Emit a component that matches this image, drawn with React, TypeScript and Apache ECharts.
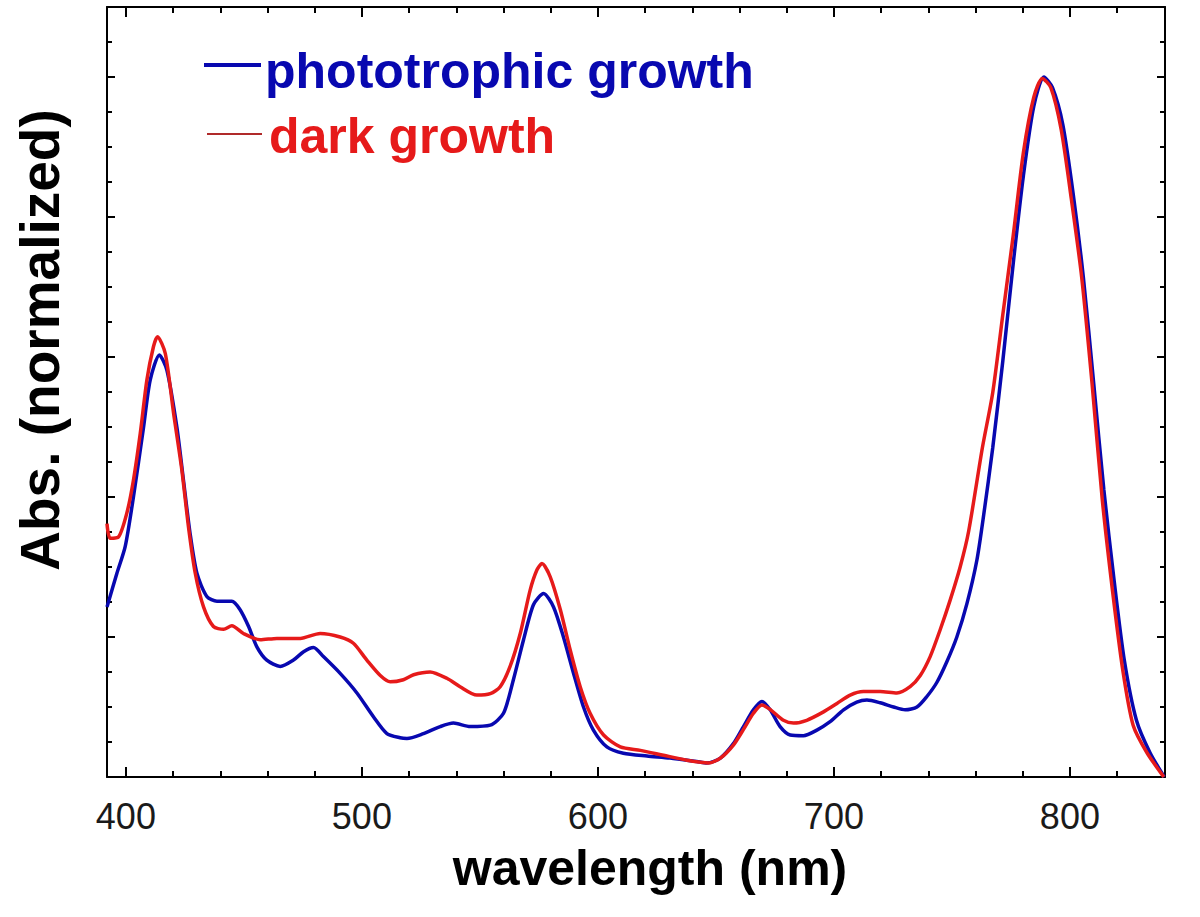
import React, { useEffect, useRef } from "react";
import * as echarts from "echarts";

// ---- Data ----
const photoWl = [392, 396.2, 399.7, 403.2, 407.5, 410.3, 414.2, 417.4, 421.6, 424.4, 427.2, 430.1, 434.3, 438.6, 444.9, 448.4, 452, 455.5, 459.7, 465.4, 471, 475.3, 479.5, 483.7, 490.8, 497.9, 504.9, 510.6, 516.2, 519.1, 526.1, 533.2, 538.8, 545.9, 554.4, 560, 564.2, 568.5, 572.7, 577, 581.2, 585.4, 589.7, 593.9, 598.1, 603.8, 610.8, 620.8, 630.6, 641.9, 646.2, 651.9, 657.5, 661.7, 665.9, 669.5, 673, 677.2, 681.5, 687.1, 692.8, 698.4, 704.1, 709.7, 714, 719.6, 725.3, 730.2, 735.2, 739.4, 743.6, 747.9, 752.1, 756.4, 760.6, 763.5, 767.3, 771.6, 776, 780.3, 784.7, 789, 792.6, 797, 801.4, 805.7, 810.1, 814.4, 818.8, 823.1, 828.2, 833.9, 840];
const photoAbs = [0.243, 0.291, 0.329, 0.4, 0.5, 0.567, 0.603, 0.581, 0.5, 0.424, 0.348, 0.291, 0.258, 0.251, 0.251, 0.239, 0.215, 0.186, 0.167, 0.158, 0.167, 0.179, 0.185, 0.172, 0.148, 0.12, 0.086, 0.062, 0.056, 0.055, 0.062, 0.072, 0.077, 0.072, 0.074, 0.091, 0.139, 0.196, 0.246, 0.262, 0.243, 0.2, 0.148, 0.1, 0.067, 0.043, 0.034, 0.03, 0.027, 0.022, 0.02, 0.027, 0.048, 0.072, 0.096, 0.108, 0.096, 0.072, 0.06, 0.059, 0.067, 0.079, 0.096, 0.107, 0.11, 0.106, 0.1, 0.096, 0.1, 0.115, 0.135, 0.165, 0.2, 0.248, 0.31, 0.375, 0.47, 0.595, 0.734, 0.859, 0.958, 1.0, 0.985, 0.932, 0.833, 0.714, 0.562, 0.41, 0.279, 0.166, 0.081, 0.035, 0.0];

const darkWl = [392, 393.3, 396.9, 400.4, 403.2, 406.1, 408.9, 411.7, 413.4, 416.7, 420.2, 423.7, 426.5, 429.4, 432.9, 437.1, 441.4, 444.9, 449.8, 456.9, 464, 473.9, 482.3, 490.8, 496.4, 502.1, 507.8, 512, 517.6, 521.9, 528.9, 536, 541.6, 548.7, 554.4, 558.6, 562.8, 567.1, 571.3, 574.2, 576.3, 579.8, 584.1, 588.3, 592.5, 596.7, 602.4, 609.5, 618, 627.8, 637.7, 646.9, 651.9, 657.5, 661.7, 665.9, 669.5, 673.2, 678.6, 682.9, 688.5, 695.6, 701.3, 706.9, 712.5, 719.6, 726.7, 732.3, 736.6, 740.8, 745, 749.3, 753.5, 757.1, 762.9, 767.3, 771.6, 776, 780.3, 784.7, 788.3, 791.9, 796.3, 800.6, 805, 809.4, 813.7, 818.1, 822.4, 826.8, 832.6, 839.8];
const darkAbs = [0.362, 0.341, 0.343, 0.377, 0.424, 0.491, 0.567, 0.615, 0.629, 0.605, 0.52, 0.439, 0.358, 0.291, 0.243, 0.215, 0.211, 0.216, 0.205, 0.196, 0.198, 0.198, 0.205, 0.2, 0.191, 0.167, 0.145, 0.136, 0.139, 0.146, 0.15, 0.141, 0.129, 0.117, 0.119, 0.129, 0.158, 0.205, 0.267, 0.296, 0.305, 0.286, 0.239, 0.181, 0.129, 0.091, 0.06, 0.043, 0.038, 0.031, 0.024, 0.02, 0.027, 0.046, 0.068, 0.091, 0.103, 0.096, 0.081, 0.077, 0.081, 0.093, 0.105, 0.117, 0.122, 0.122, 0.12, 0.129, 0.145, 0.172, 0.21, 0.253, 0.3, 0.351, 0.47, 0.549, 0.661, 0.774, 0.892, 0.971, 0.998, 0.985, 0.925, 0.826, 0.714, 0.562, 0.397, 0.265, 0.153, 0.074, 0.035, 0.0];

const xMajorTicks = [400, 500, 600, 700, 800];
const xMinorTicks = [420, 440, 460, 480, 520, 540, 560, 580, 620, 640, 660, 680, 720, 740, 760, 780, 820];
const yMajorTicks = [0.2, 0.4, 0.6, 0.8, 1.0];
const yMinorTicks = [0.05, 0.1, 0.15, 0.25, 0.3, 0.35, 0.45, 0.5, 0.55, 0.65, 0.7, 0.75, 0.85, 0.9, 0.95, 1.05];

const seriesNames = ["phototrophic growth", "dark growth"];
const xTitle = "wavelength (nm)";
const yTitle = "Abs. (normalized)";

const BLUE = "#0808b0";
const RED = "#e61a1a";
const FONT = '"Liberation Sans", Arial, sans-serif';

const zip = (a: number[], b: number[]) => a.map((v, i) => [v, b[i]]);

export default function App() {
  const ref = useRef<HTMLDivElement>(null);
  useEffect(() => {
    if (!ref.current) return;
    const chart = echarts.init(ref.current, undefined, { renderer: "svg" });
    const X_MIN = 392;
    const X_MAX = 840.3;
    const lineStyle = { color: "#000", width: 2 };
    const mkX = (pos: string, ticks: number[], len: number, showLine: boolean, showLabel: boolean) => ({
      type: "value",
      position: pos,
      min: X_MIN,
      max: X_MAX,
      axisLine: { show: showLine, onZero: false, lineStyle },
      axisTick: { show: true, inside: true, length: len, customValues: ticks, lineStyle: { color: "#000", width: 2 } },
      axisLabel: showLabel
        ? { show: true, customValues: xMajorTicks, fontSize: 36, color: "#1a1a1a", fontFamily: FONT, margin: 21 }
        : { show: false },
      splitLine: { show: false },
    });
    const mkY = (pos: string, ticks: number[], len: number, showLine: boolean) => ({
      type: "value",
      position: pos,
      min: 0,
      max: 1.1,
      axisLine: { show: showLine, onZero: false, lineStyle },
      axisTick: { show: true, inside: true, length: len, customValues: ticks, lineStyle: { color: "#000", width: 2 } },
      axisLabel: { show: false },
      splitLine: { show: false },
    });
    chart.setOption({
      animation: false,
      backgroundColor: "#fff",
      grid: { left: 107, top: 7, right: 35, bottom: 140, containLabel: false },
      xAxis: [
        mkX("bottom", xMajorTicks, 10, true, true),
        mkX("bottom", xMinorTicks, 6, false, false),
        mkX("top", xMajorTicks, 10, true, false),
        mkX("top", xMinorTicks, 6, false, false),
      ],
      yAxis: [
        mkY("left", yMajorTicks, 8, true),
        mkY("left", yMinorTicks, 5, false),
        mkY("right", yMajorTicks, 8, true),
        mkY("right", yMinorTicks, 5, false),
      ],
      series: [
        {
          name: seriesNames[0],
          type: "line",
          xAxisIndex: 0,
          yAxisIndex: 0,
          data: zip(photoWl, photoAbs),
          showSymbol: false,
          smooth: 0.25,
          lineStyle: { color: BLUE, width: 3.5 },
          itemStyle: { color: BLUE },
        },
        {
          name: seriesNames[1],
          type: "line",
          xAxisIndex: 0,
          yAxisIndex: 0,
          data: zip(darkWl, darkAbs),
          showSymbol: false,
          smooth: 0.25,
          lineStyle: { color: RED, width: 3.5 },
          itemStyle: { color: RED },
        },
      ],
      graphic: [
        { type: "line", shape: { x1: 204, y1: 65, x2: 261, y2: 65 }, style: { stroke: BLUE, lineWidth: 4 } },
        {
          type: "text",
          x: 265,
          y: 71,
          style: { text: seriesNames[0], fill: BLUE, fontSize: 50, fontWeight: "bold", fontFamily: FONT, align: "left", verticalAlign: "middle" },
        },
        { type: "line", shape: { x1: 207, y1: 134, x2: 262, y2: 134 }, style: { stroke: "#b02a2a", lineWidth: 2 } },
        {
          type: "text",
          x: 269,
          y: 136,
          style: { text: seriesNames[1], fill: RED, fontSize: 50, fontWeight: "bold", fontFamily: FONT, align: "left", verticalAlign: "middle" },
        },
        {
          type: "text",
          x: 650,
          y: 868,
          style: { text: xTitle, fill: "#000", fontSize: 50, fontWeight: "bold", fontFamily: FONT, align: "center", verticalAlign: "middle" },
        },
        {
          type: "text",
          x: 40,
          y: 340,
          rotation: Math.PI / 2,
          style: { text: yTitle, fill: "#000", fontSize: 55, fontWeight: "bold", fontFamily: FONT, align: "center", verticalAlign: "middle" },
        },
      ],
    });
    return () => chart.dispose();
  }, []);
  return <div ref={ref} style={{ position: "fixed", left: 0, top: 0, width: 1200, height: 917, background: "#fff" }} />;
}
